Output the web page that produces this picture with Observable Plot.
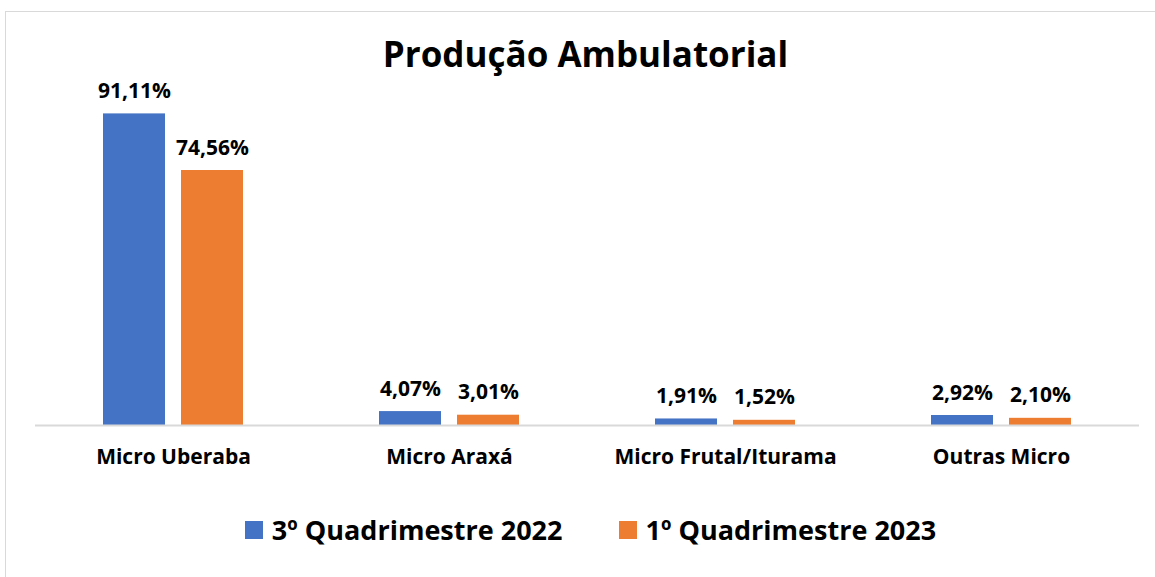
<!DOCTYPE html>
<html>
<head>
<meta charset="utf-8">
<script src="https://cdn.jsdelivr.net/npm/d3@7"></script>
<script src="https://cdn.jsdelivr.net/npm/@observablehq/plot@0.6"></script>
<style>
  html, body { margin: 0; padding: 0; background: #fff; overflow: hidden; }
  #wrap { position: relative; width: 1155px; height: 577px; font-family: "Open Sans", sans-serif; font-weight: 700; color: #000; }
  #frame { position: absolute; left: 5px; top: 11px; width: 1170px; height: 600px; border: 1.5px solid #d9d9d9; box-sizing: border-box; }
  #chart { position: absolute; left: 0; top: 0; }
  #title { position: absolute; left: 0; width: 1171px; top: 30px; text-align: center; font-size: 35px; line-height: 48px; white-space: nowrap; }
  #legend { position: absolute; left: 13px; top: 511px; width: 1155px; display: flex; justify-content: center; font-size: 27px; line-height: 38px; white-space: nowrap; }
  .item { display: flex; align-items: center; }
  .sw { width: 18px; height: 18px; margin-right: 9px; }
</style>
</head>
<body>
<div id="wrap">
  <div id="frame"></div>
  <div id="chart"></div>
  <div id="title"></div>
  <div id="legend"></div>
</div>
<script>
const titleText = "Produção Ambulatorial";
const categories = ["Micro Uberaba", "Micro Araxá", "Micro Frutal/Iturama", "Outras Micro"];
const seriesNames = ["3º Quadrimestre 2022", "1º Quadrimestre 2023"];
const values2022 = [91.11, 4.07, 1.91, 2.92];
const values2023 = [74.56, 3.01, 1.52, 2.10];
const colors = ["#4472C4", "#ED7D31"];

const data = [];
categories.forEach((c, i) => {
  data.push({category: c, series: seriesNames[0], value: values2022[i]});
  data.push({category: c, series: seriesNames[1], value: values2023[i]});
});
const fmt = v => v.toFixed(2).replace(".", ",") + "%";

document.getElementById("title").textContent = titleText;

const chart = Plot.plot({
  width: 1155,
  height: 577,
  marginLeft: 35,
  marginRight: 16,
  marginTop: 83,
  marginBottom: 152,
  style: {fontFamily: "'Open Sans', sans-serif", fontWeight: 700, color: "#000", background: "transparent"},
  fx: {domain: categories, padding: 0, label: null, axis: null},
  x: {domain: seriesNames, paddingInner: 0.21, paddingOuter: 0.87, axis: null},
  y: {domain: [0, 100], axis: null},
  color: {domain: seriesNames, range: colors},
  marks: [
    Plot.barY(data, {fx: "category", x: "series", y: "value", fill: "series"}),
    Plot.ruleY([0], {stroke: "#d9d9d9", strokeWidth: 2}),
    Plot.text(data, {fx: "category", x: "series", y: "value", text: d => fmt(d.value), lineAnchor: "bottom", dy: -16, fontSize: 21, fontWeight: 700, fill: "#000"}),
    Plot.axisFx({anchor: "bottom", tickSize: 0, tickPadding: 24, fontSize: 21, fontWeight: 700, label: null, color: "#000"})
  ]
});
document.getElementById("chart").appendChild(chart);

const legend = document.getElementById("legend");
seriesNames.forEach((s, i) => {
  const it = document.createElement("div");
  it.className = "item";
  it.style.marginRight = i === 0 ? "56px" : "0";
  const sw = document.createElement("div");
  sw.className = "sw";
  sw.style.background = colors[i];
  const t = document.createElement("span");
  t.textContent = s;
  it.appendChild(sw);
  it.appendChild(t);
  legend.appendChild(it);
});
</script>
</body>
</html>
